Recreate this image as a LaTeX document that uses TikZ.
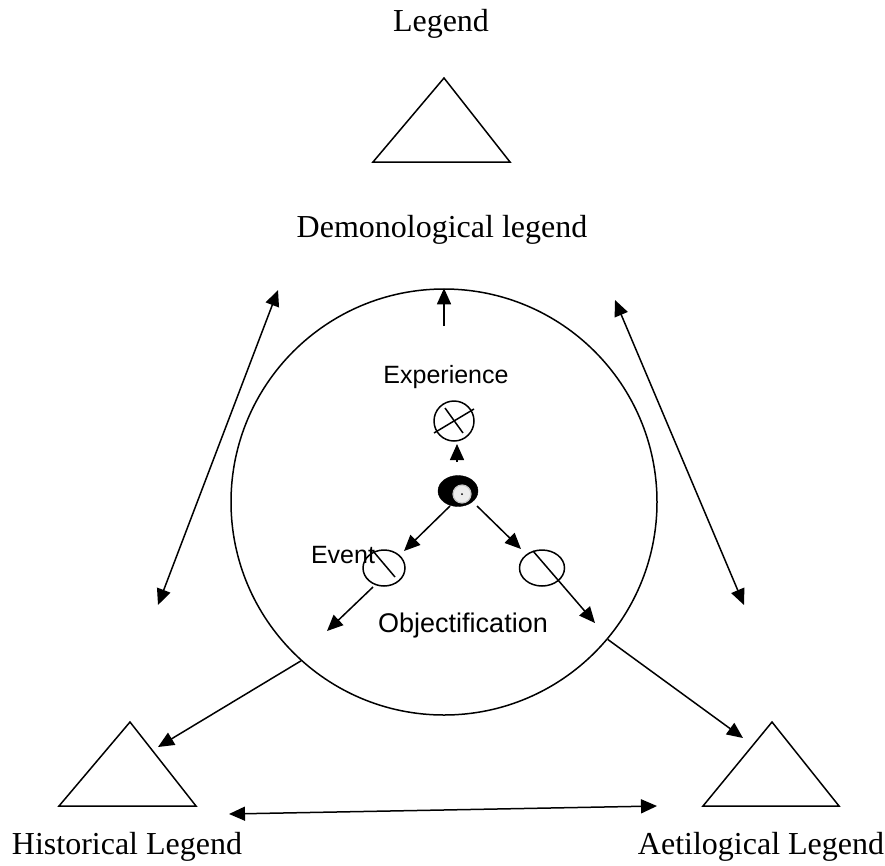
\documentclass[tikz,border=0pt]{standalone}
\usepackage{fontspec}
\setmainfont{Liberation Serif}
\setsansfont{Liberation Sans}
\usetikzlibrary{arrows.meta,shapes.geometric}
\tikzset{
  ln/.style={line width=1.5pt},
  arr/.style={ln,-{Triangle[length=16pt,width=14pt]}},
  darr/.style={ln,{Triangle[length=16pt,width=14pt]}-{Triangle[length=16pt,width=14pt]}},
  serlab/.style={inner sep=0pt,anchor=base,font=\fontsize{32}{37}\selectfont\rmfamily},
  sanlab/.style={inner sep=0pt,anchor=base,font=\fontsize{25}{30}\selectfont\sffamily},
  tri/.style={ln,line join=miter}
}
\begin{document}
\begin{tikzpicture}[x=1pt,y=-1pt]
\path[use as bounding box] (0,0) rectangle (885,865);

% labels
\node[serlab] (legend) at (441,31) {Legend};
\node[serlab] (demon) at (442,237) {Demonological legend};
\node[serlab] (hist) at (127,854) {Historical Legend};
\node[serlab] (aetio) at (761,854) {Aetilogical Legend};
\node[sanlab] (exp) at (446,383) {Experience};
\node[sanlab] (event) at (343,563) {Event};
\node[sanlab,font=\fontsize{27}{32}\selectfont\sffamily] (obj) at (463,632) {Objectification};

% triangles
\coordinate (tA) at (444,78); \coordinate (tB) at (373,162); \coordinate (tC) at (510,162);
\draw[tri] (tA) -- (tB) -- (tC) -- cycle;
\coordinate (hA) at (130,722); \coordinate (hB) at (59,806); \coordinate (hC) at (196,806);
\draw[tri] (hA) -- (hB) -- (hC) -- cycle;
\coordinate (aA) at (772,722); \coordinate (aB) at (703,806); \coordinate (aC) at (839,806);
\draw[tri] (aA) -- (aB) -- (aC) -- cycle;

% big circle
\node[ln,draw,circle,minimum size=426pt,inner sep=0pt] (big) at (444,502) {};

% top arrow inside circle
\coordinate (topS) at (444,326);
\draw[arr] (topS) -- (big.90);

% crossed circle
\node[ln,draw,circle,minimum size=40pt,inner sep=0pt] (cross) at (454,421) {};
\coordinate (x1) at (445,408); \coordinate (x2) at (463,433);
\coordinate (x3) at (434,433); \coordinate (x4) at (474,409);
\draw[ln] (x1) -- (x2);
\draw[ln] (x3) -- (x4);

% small arrow to crossed circle
\coordinate (saS) at (457,462); \coordinate (saE) at (457,444);
\draw[arr] (saS) -- (saE);

% black blob
\node[draw,fill=black,ellipse,minimum width=40pt,minimum height=31pt,inner sep=0pt] (blob) at (458,491) {};
\node[draw=gray!45,fill=gray!15,circle,minimum size=18pt,inner sep=0pt,line width=1.2pt] (core) at (462,494) {};
\node[fill=black,circle,minimum size=2pt,inner sep=0pt] (dot) at (462,494) {};

% arrows from blob
\coordinate (bl) at (450,506); \coordinate (blT) at (404,551);
\coordinate (br) at (477,506); \coordinate (brT) at (521,549);
\draw[arr] (bl) -- (blT);
\draw[arr] (br) -- (brT);

% event ellipse
\node[ln,draw,ellipse,minimum width=42pt,minimum height=36pt,inner sep=0pt] (ev) at (384,568) {};
\coordinate (e1) at (373,551); \coordinate (e2) at (395,577);
\draw[ln] (e1) -- (e2);
\coordinate (evS) at (373,587); \coordinate (evT) at (327,631);
\draw[arr] (evS) -- (evT);

% right ellipse
\node[ln,draw,ellipse,minimum width=45pt,minimum height=36pt,inner sep=0pt] (ob) at (542,568) {};
\coordinate (o1) at (533,551); \coordinate (oT) at (595,623);
\draw[arr] (o1) -- (oT);

% outer double arrows
\coordinate (l1) at (278,290); \coordinate (l2) at (158,605);
\draw[darr] (l1) -- (l2);
\coordinate (r1) at (615,300); \coordinate (r2) at (744,605);
\draw[darr] (r1) -- (r2);
\coordinate (b1) at (229,814); \coordinate (b2) at (657,806);
\draw[darr] (b1) -- (b2);

% arrows from circle to triangles
\coordinate (hT) at (158,747);
\draw[arr] (big.228) -- (hT);
\coordinate (aT) at (743,738);
\draw[arr] (big.320) -- (aT);
\end{tikzpicture}
\end{document}
